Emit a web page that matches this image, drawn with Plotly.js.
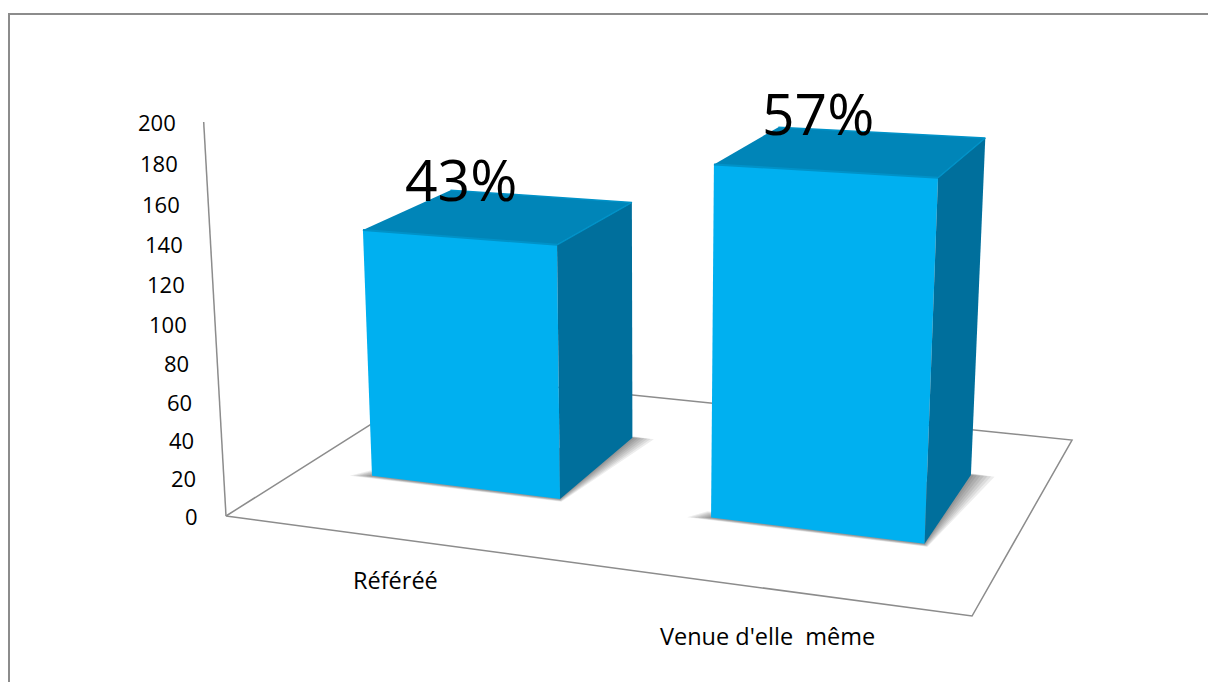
<!DOCTYPE html>
<html><head><meta charset="utf-8">
<script src="https://cdn.plot.ly/plotly-3.0.1.min.js"></script>
<style>html,body{margin:0;padding:0;background:#fff}</style></head>
<body><div id="chart" style="width:1208px;height:682px"></div>
<script>
// ---- data ----
const categories = ["Référéé", "Venue d'elle  même"];
const values = [133, 178];
const dataLabels = ["43%", "57%"];
const tickValues = [0, 20, 40, 60, 80, 100, 120, 140, 160, 180, 200];
const axisMax = 200;

// ---- 3-D look: perspective map from chart space to the page ----
function project(x, y, value) {
  const z = value / axisMax;
  const w = 1 - 0.127 * x + 0.214 * y - 0.05 * z;
  return [(226 + 622.6 * x + 316.7 * y - 32.5 * z) / w,
          (516 + 21.8 * x - 59.5 * y - 400.1 * z) / w];
}
const centers = [0.2525, 0.7525], halfWidth = 0.1425, front = 0.305, back = 0.71;
const labelNudge = [3, -6];
const cFront = '#00B0F0', cTop = '#0085B8', cSide = '#006F9C', cRim = '#0092C8', cAxis = '#8C8C8C';

function poly(points, fill, opacity) {
  const p = points.map(q => project(q[0], q[1], q[2]));
  return {type: 'scatter', mode: 'lines', x: p.map(q => q[0]).concat(p[0][0]), y: p.map(q => q[1]).concat(p[0][1]),
    fill: 'toself', fillcolor: fill, opacity: opacity === undefined ? 1 : opacity,
    line: {width: 0, color: fill}, hoverinfo: 'skip', showlegend: false};
}
function path(points, color, width) {
  const p = points.map(q => project(q[0], q[1], q[2]));
  return {type: 'scatter', mode: 'lines', x: p.map(q => q[0]), y: p.map(q => q[1]),
    line: {width: width || 1.5, color: color || cAxis}, hoverinfo: 'skip', showlegend: false};
}

const traces = [
  path([[0, 1, 0], [0, 0, 0], [1, 0, 0], [1, 1, 0], [0, 1, 0]]),
  path([[0, 0, 0], [0, 0, axisMax]])
];
values.forEach((v, i) => {
  const l = centers[i] - halfWidth, r = centers[i] + halfWidth;
  // soft floor shadow built from stacked translucent layers
  [1, 0.85, 0.7, 0.55, 0.4, 0.25, 0.12].forEach(s => {
    traces.push(poly([[l - 0.03 * s, front - 0.002 - 0.012 * s, 0], [r + 0.006 * s, front - 0.002 - 0.012 * s, 0],
                      [r + 0.032 * s, back + 0.006 * s, 0], [r, back + 0.01 * s, 0],
                      [l + 0.02, front + 0.03, 0], [l - 0.012 * s, front + 0.03 * s, 0]], '#000000', 0.07));
  });
  traces.push(poly([[l, front, 0], [r, front, 0], [r, front, v], [l, front, v]], cFront));
  traces.push(poly([[r, front, 0], [r, back, 0], [r, back, v], [r, front, v]], cSide));
  traces.push(poly([[l, front, v], [r, front, v], [r, back, v], [l, back, v]], cTop));
  traces.push(path([[l, front, v], [r, front, v]], cRim, 2));
  traces.push(path([[r, front, v], [r, back, v], [l, back, v]], cRim, 1.5));
});

const annotations = [];
const tickFont = {family: '"Open Sans", sans-serif', size: 22, color: '#000'};
const categoryFont = {family: '"Open Sans", sans-serif', size: 23.5, color: '#000'};
tickValues.forEach(t => {
  const p = project(0, 0, t);
  annotations.push({x: p[0], y: p[1], text: String(t), showarrow: false, xanchor: 'right', yanchor: 'middle',
    xshift: -26, font: tickFont});
});
categories.forEach((c, i) => {
  const p = project(centers[i], 0, 0);
  annotations.push({x: p[0], y: p[1], text: c, showarrow: false, xanchor: 'center', yanchor: 'middle',
    yshift: -(41 + 6 * i), font: categoryFont});
});
values.forEach((v, i) => {
  const p = project(centers[i], front, v);
  annotations.push({x: p[0], y: p[1], text: dataLabels[i], showarrow: false, xanchor: 'center', yanchor: 'middle',
    xshift: labelNudge[i], yshift: 58, font: {family: '"Open Sans", sans-serif', size: 57, color: '#000'}});
});

const layout = {
  width: 1208, height: 682, autosize: false, margin: {l: 0, r: 0, t: 0, b: 0},
  paper_bgcolor: '#fff', plot_bgcolor: '#fff', showlegend: false,
  xaxis: {range: [0, 1208], visible: false, fixedrange: true},
  yaxis: {range: [682, 0], visible: false, fixedrange: true},
  shapes: [{type: 'rect', xref: 'x', yref: 'y', x0: 9, y0: 14, x1: 1300, y1: 760,
            line: {color: cAxis, width: 2}, fillcolor: 'rgba(0,0,0,0)', layer: 'below'}],
  annotations: annotations
};
Plotly.newPlot('chart', traces, layout, {displayModeBar: false, staticPlot: true});
</script></body></html>
